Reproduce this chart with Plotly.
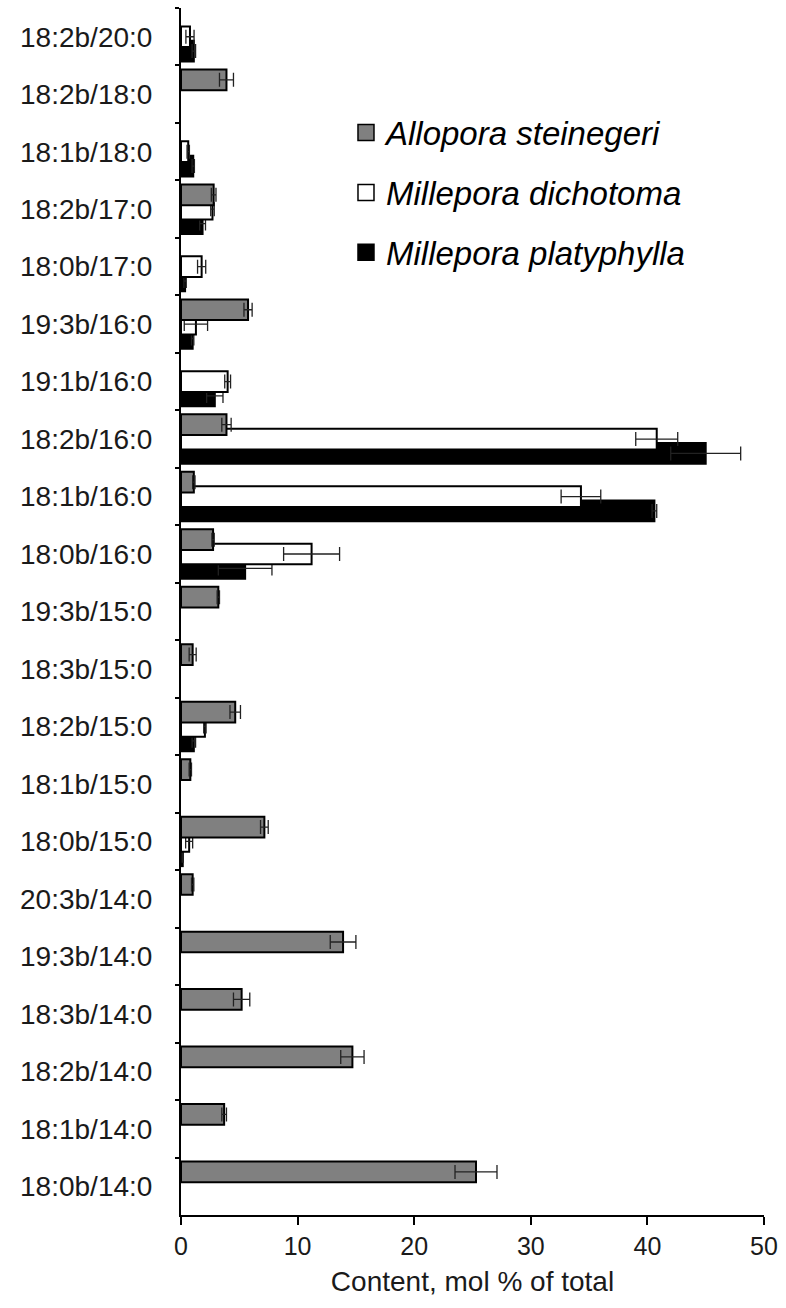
import plotly.graph_objects as go

# Categories, listed top to bottom as in the figure
categories = ["18:2b/20:0", "18:2b/18:0", "18:1b/18:0", "18:2b/17:0", "18:0b/17:0",
              "19:3b/16:0", "19:1b/16:0", "18:2b/16:0", "18:1b/16:0", "18:0b/16:0",
              "19:3b/15:0", "18:3b/15:0", "18:2b/15:0", "18:1b/15:0", "18:0b/15:0",
              "20:3b/14:0", "19:3b/14:0", "18:3b/14:0", "18:2b/14:0", "18:1b/14:0",
              "18:0b/14:0"]

allopora = [None, 3.9, None, 2.8, None,
            5.75, None, 3.9, 1.1, 2.75,
            3.2, 1.0, 4.65, 0.8, 7.15,
            1.0, 13.9, 5.2, 14.7, 3.7,
            25.3]
allopora_err = [0, 0.6, 0, 0.2, 0,
                0.35, 0, 0.4, 0.1, 0.1,
                0.1, 0.3, 0.45, 0.1, 0.33,
                0.1, 1.1, 0.7, 1.0, 0.2,
                1.8]

dichotoma = [0.77, None, 0.62, 2.7, 1.77,
             1.28, 4.0, 40.8, 34.3, 11.2,
             None, None, 2.05, None, 0.7,
             None, None, None, None, None,
             None]
dichotoma_err = [0.35, 0, 0.1, 0.15, 0.35,
                 1.0, 0.25, 1.8, 1.7, 2.4,
                 0, 0, 0.1, 0, 0.3,
                 0, 0, 0, 0, 0,
                 0]

platyphylla = [1.1, None, 1.05, 1.85, 0.35,
               1.0, 2.9, 45.0, 40.6, 5.5,
               None, None, 1.1, None, 0.15,
               None, None, None, None, None,
               None]
platyphylla_err = [0.15, 0, 0.1, 0.25, 0.1,
                   0.1, 0.7, 3.0, 0.2, 2.3,
                   0, 0, 0.15, 0, 0.05,
                   0, 0, 0, 0, 0,
                   0]

x_ticks = [0, 10, 20, 30, 40, 50]
x_title = "Content, mol % of total"

FONT = "Liberation Sans, Arial, sans-serif"
BAR_W = 0.36
ERR_COL = "#222222"

# drawn in this order so grey sits on top of white, white on top of black
series = [
    ("Millepora platyphylla", platyphylla, platyphylla_err, "#000000", 0.07, 3),
    ("Millepora dichotoma", dichotoma, dichotoma_err, "#ffffff", -0.18, 2),
    ("Allopora steinegeri", allopora, allopora_err, "#808080", -0.43, 1),
]

fig = go.Figure()
for name, vals, errs, col, off, rank in series:
    fig.add_trace(go.Bar(
        name=name, showlegend=False,
        y=categories, x=vals, orientation="h",
        width=BAR_W, offset=off,
        marker=dict(color=col, line=dict(color="#000000", width=2)),
        error_x=dict(type="data", array=errs, symmetric=True,
                     color=ERR_COL, thickness=1.3, width=7),
    ))
    # legend entry with a larger square swatch
    fig.add_trace(go.Scatter(
        name="<i>" + name + "</i>", legendgroup=name, legendrank=rank,
        x=[None], y=[None], mode="markers",
        marker=dict(symbol="square", size=16, color=col,
                    line=dict(color="#000000", width=1.5)),
    ))

fig.update_layout(
    width=786, height=1308,
    margin=dict(l=181, r=19, t=8, b=93),
    barmode="overlay",
    plot_bgcolor="white", paper_bgcolor="white",
    font=dict(family=FONT, color="#1a1a1a"),
    showlegend=True,
    legend=dict(
        x=0.283, y=0.92, xanchor="left", yanchor="top",
        traceorder="grouped", tracegroupgap=14,
        font=dict(size=33, family=FONT, color="#000000"),
        bgcolor="rgba(0,0,0,0)",
    ),
    xaxis=dict(
        range=[0, 50], tickvals=x_ticks, ticks="outside", ticklen=8,
        tickwidth=1.5, tickcolor="#000000",
        showline=True, linecolor="#000000", linewidth=2,
        showgrid=False, zeroline=False,
        tickfont=dict(size=25, family=FONT),
        title=dict(text=x_title, font=dict(size=28, family=FONT), standoff=12),
    ),
    yaxis=dict(
        type="category", categoryorder="array", categoryarray=categories,
        autorange="reversed",
        tickson="boundaries", ticks="outside", ticklen=4, tickwidth=1.5,
        tickcolor="#000000",
        showline=True, linecolor="#000000", linewidth=2,
        showgrid=False, zeroline=False,
        tickfont=dict(size=28, family=FONT),
        ticklabelstandoff=21,
    ),
)

fig.write_html("out.html")
